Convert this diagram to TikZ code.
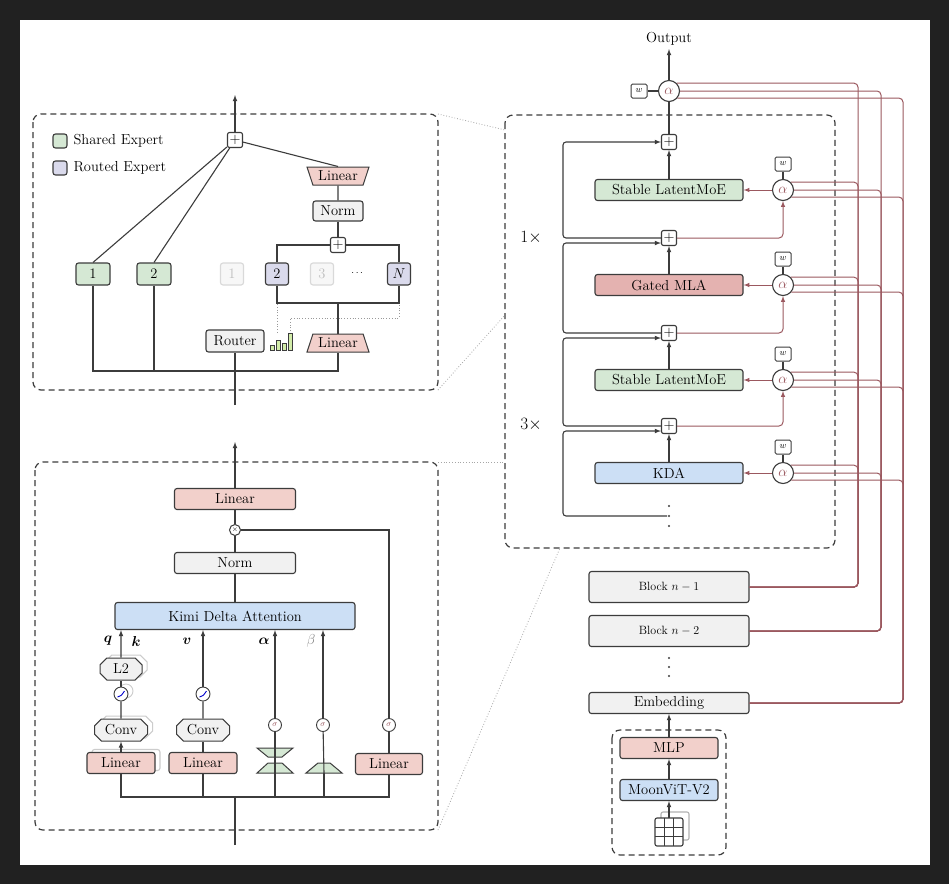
\documentclass[tikz,border=0pt]{standalone}
\usepackage{amsmath,amssymb,bm}
\usetikzlibrary{shapes.geometric,shapes.misc,shadows,calc}
\definecolor{gfill}{RGB}{213,232,212}
\definecolor{rfill}{RGB}{242,208,203}
\definecolor{rdark}{RGB}{228,178,176}
\definecolor{bfill}{RGB}{204,223,245}
\definecolor{grfill}{RGB}{241,241,241}
\definecolor{pfill}{RGB}{218,218,236}
\definecolor{resc}{RGB}{155,88,95}
\definecolor{edge}{RGB}{60,60,60}
\tikzset{
  box/.style={draw=edge, line width=1.1pt, rounded corners=2.5pt, inner sep=0pt, minimum height=21pt, font=\fontsize{14.5}{16}\selectfont},
  plusn/.style={draw=edge, line width=1.1pt, rounded corners=2pt, minimum size=15pt, inner sep=0pt, font=\fontsize{14}{14}\selectfont},
  alph/.style={circle, draw=edge, line width=1.1pt, minimum size=21pt, inner sep=0pt, text=resc, font=\fontsize{14}{14}\selectfont},
  wbox/.style={draw=edge, line width=1pt, rounded corners=1.5pt, minimum width=16pt, minimum height=14pt, inner sep=0pt, font=\small},
  sig/.style={circle, draw=edge, line width=0.9pt, minimum size=13pt, inner sep=0pt, text=resc, font=\footnotesize},
  relu/.style={circle, draw=edge, line width=0.9pt, minimum size=14pt, inner sep=0pt},
  oct/.style={chamfered rectangle, chamfered rectangle xsep=4pt, draw=edge, line width=1pt, fill=grfill, inner sep=0pt, minimum height=22pt, font=\fontsize{14.5}{16}\selectfont},
  trap/.style={trapezium, trapezium stretches=true, draw=edge, line width=1pt, fill=rfill, inner sep=0pt, minimum width=62pt, minimum height=18pt, trapezium angle=65, font=\fontsize{14.5}{16}\selectfont},
  gtrap/.style={draw=edge, line width=1pt, fill=gfill},
  shad/.style={copy shadow={shadow xshift=5pt, shadow yshift=3pt, draw=gray!40, fill=white}},
  ln/.style={line width=1.1pt, draw=edge},
  arr/.style={ln, -{latex}},
  res/.style={line width=1pt, draw=resc, rounded corners=4pt},
  rarr/.style={res, -{latex}},
  dash box/.style={draw=edge, line width=1.2pt, dash pattern=on 6pt off 4pt, rounded corners=8pt},
  zoomln/.style={draw=gray!70, line width=0.8pt, dotted},
  lbl/.style={font=\fontsize{14.5}{16}\selectfont},
  dot/.style={circle, fill=edge, inner sep=0pt, minimum size=2.2pt}
}
\begin{document}
\begin{tikzpicture}[x=1pt,y=-1pt]
\fill[black!87] (0,0) rectangle (949,884);
\fill[white] (20,20) rectangle (930,865);
\useasboundingbox (0,0) rectangle (949,884);

% ---- main stack
\draw[dash box] (505,115) rectangle (835,548);
\node[lbl] (out) at (669,39) {Output};
\node[alph] (a0) at (669,91) {$\alpha$};
\node[wbox] (w0) at (639,91) {$w$};
\draw[ln] (w0) -- (a0);
\draw[arr] (a0) -- (out);
\foreach \n/\y in {1/142,2/238,3/333,4/426}
  \node[plusn] (p\n) at (669,\y) {$+$};
\node[box, fill=gfill, minimum width=148pt] (b1) at (669,190) {Stable LatentMoE};
\node[box, fill=rdark, minimum width=148pt] (b2) at (669,285) {Gated MLA};
\node[box, fill=gfill, minimum width=148pt] (b3) at (669,380) {Stable LatentMoE};
\node[box, fill=bfill, minimum width=148pt] (b4) at (669,473) {KDA};
\foreach \y in {506,516,526} \node[dot] at (669,\y) {};
\coordinate (vd) at (667,516);
\foreach \n/\y in {1/190,2/285,3/380,4/473}{
  \node[alph] (a\n) at (783,\y) {$\alpha$};
  \node[wbox] (w\n) at (783,\y-26) {$w$};
  \draw[ln] (w\n) -- (a\n);
  \draw[rarr] (a\n) -- (b\n);
}
\draw[ln] (p1) -- (a0);
\foreach \n/\m in {1/1,2/2,3/3,4/4}
  \draw[arr] (b\n) -- (p\m);
\draw[rarr] (p2.east) -| (a1.south);
\draw[rarr] (p3.east) -| (a2.south);
\draw[rarr] (p4.east) -| (a3.south);
% residual loops
\draw[arr, rounded corners=3pt] (p2.west) -- (563,238) -- (563,142) -- (p1.west);
\draw[arr, rounded corners=3pt] (p3.west) -- (563,333) -- (563,243) -- (p2.west |- 0,243);
\draw[arr, rounded corners=3pt] (p4.west) -- (563,426) -- (563,338) -- (p3.west |- 0,338);
\draw[arr, rounded corners=3pt] (vd) -- (563,516) -- (563,431) -- (p4.west |- 0,431);
\node[font=\fontsize{19}{19}\selectfont] at (531,238) {$1\times$};
\node[font=\fontsize{19}{19}\selectfont] at (531,425) {$3\times$};

% ---- lower stack
\node[box, fill=grfill, minimum width=160pt, minimum height=31pt, font=\fontsize{12}{14}\selectfont] (bn1) at (669,587) {Block $n-1$};
\node[box, fill=grfill, minimum width=160pt, minimum height=31pt, font=\fontsize{12}{14}\selectfont] (bn2) at (669,631) {Block $n-2$};
\foreach \y in {658,667,676} \node[dot] at (669,\y) {};
\node[box, fill=grfill, minimum width=160pt] (emb) at (669,703) {Embedding};
\draw[dash box] (612,730) rectangle (726,855);
\node[box, fill=rfill, minimum width=98pt] (mlp) at (669,748) {MLP};
\node[box, fill=bfill, minimum width=98pt] (vit) at (669,790) {MoonViT-V2};
\coordinate (img) at (669,818);
\draw[ln, draw=gray!60, fill=white, rounded corners=2pt] (661,812) rectangle (689,840);
\draw[ln, fill=white, rounded corners=2pt] (655,818) rectangle (683,846);
\foreach \i in {1,2} {
  \draw[line width=0.6pt, edge] (655+\i*9.33,818) -- (655+\i*9.33,846);
  \draw[line width=0.6pt, edge] (655,818+\i*9.33) -- (683,818+\i*9.33);
}
\draw[arr] (img) -- (vit);
\draw[arr] (vit) -- (mlp);
\draw[arr] (mlp) -- (emb);

% ---- dense connections
\foreach \a in {a0,a1,a2,a3,a4}{
  \draw[res] (\a.45) -- (\a.45 -| 858,0) -- (858,587) -- (bn1.east);
  \draw[res] (\a.east) -- (\a.east -| 881,0) -- (881,631) -- (bn2.east);
  \draw[res] (\a.-40) -- (\a.-40 -| 903,0) -- (903,703) -- (emb.east);
}

% ---- MoE panel
\draw[dash box] (33,114) rectangle (438,390);
\node[box, fill=gfill, minimum width=14pt, minimum height=14pt] (lg1) at (60,141) {};
\node[lbl, anchor=west] at (70,141) {Shared Expert};
\node[box, fill=pfill, minimum width=14pt, minimum height=14pt] (lg2) at (60,168) {};
\node[lbl, anchor=west] at (70,168) {Routed Expert};
\node[plusn] (mp) at (235,140) {$+$};
\coordinate (mtop) at (235,95);
\coordinate (min) at (235,405);
\draw[arr] (mp) -- (mtop);
\node[box, fill=gfill, minimum width=34pt, minimum height=22pt] (s1) at (93,274) {1};
\node[box, fill=gfill, minimum width=34pt, minimum height=22pt] (s2) at (154,274) {2};
\node[box, draw=gray!30, fill=grfill!60, text=gray!50, minimum width=23pt, minimum height=22pt] (r1) at (232,274) {1};
\node[box, fill=pfill, minimum width=23pt, minimum height=22pt] (r2) at (277,274) {2};
\node[box, draw=gray!30, fill=grfill!60, text=gray!50, minimum width=23pt, minimum height=22pt] (r3) at (322,274) {3};
\node at (358,273) {$\cdots$};
\node[box, fill=pfill, minimum width=23pt, minimum height=22pt] (rN) at (399,274) {$N$};
\node[trap, shape border rotate=180] (lin1) at (338,176) {Linear};
\node[box, fill=grfill, minimum width=50pt, minimum height=20pt] (mnorm) at (338,211) {Norm};
\node[plusn] (rp) at (338,245) {$+$};
\node[trap] (lin2) at (338,343) {Linear};
\node[box, fill=grfill, minimum width=58pt, minimum height=22pt] (router) at (235,341) {Router};
\draw[ln] (s1.north) -- (mp);
\draw[ln] (s2.north) -- (mp);
\draw[ln] (lin1.north) -- (mp);
\draw[ln] (lin1) -- (mnorm);
\draw[ln] (mnorm) -- (rp);
\draw[ln] (r2.north) |- (rp.west);
\draw[ln] (rN.north) |- (rp.east);
\draw[ln] (r2.south) |- (338,303) -| (rN.south);
\draw[ln] (338,303) -- (lin2);
\draw[ln] (min) -- (router);
\draw[ln] (s1.south) |- (lin2.south |- 0,371) -- (lin2.south);
\draw[ln] (s2.south) -- (154,371);
% router scores
\foreach \x/\h in {270/5,276/10,282/7,288/17}
  \draw[line width=0.8pt, edge, fill=yellow!50!green!35] (\x,350) rectangle (\x+4.5,350-\h);
\draw[zoomln, draw=gray!80, line width=1pt] (277,304) -- (277,333);
\draw[zoomln, draw=gray!80, line width=1pt] (290,331) -- (290,318) -- (399,318) -- (399,304);

% ---- KDA panel
\draw[dash box] (35,462) rectangle (438,830);
\node[box, fill=rfill, minimum width=121pt] (klin) at (235,499) {Linear};
\node[circle, draw=edge, line width=1pt, inner sep=0pt, minimum size=11pt, font=\scriptsize] (kmul) at (235,530) {$\times$};
\node[box, fill=grfill, minimum width=121pt] (knorm) at (235,563) {Norm};
\node[box, fill=bfill, minimum width=240pt, minimum height=27pt] (kda) at (235,616) {Kimi Delta Attention};
\coordinate (ktop) at (235,442);
\coordinate (kin) at (235,845);
\draw[arr] (klin) -- (ktop);
\draw[ln] (kmul) -- (klin);
\draw[ln] (knorm) -- (kmul);
\draw[ln] (kda) -- (knorm);
% q,k branch
\node[oct, shad, minimum width=42pt] (l2) at (121,669) {L2};
\node[relu, shad, fill=white] (rq) at (121,694) {};
\node[oct, shad, minimum width=53pt] (cq) at (121,730) {Conv};
\node[box, shad, fill=rfill, minimum width=68pt] (lq) at (121,763) {Linear};
% v branch
\node[relu] (rv) at (203,694) {};
\node[oct, minimum width=53pt] (cv) at (203,730) {Conv};
\node[box, fill=rfill, minimum width=68pt] (lv) at (203,763) {Linear};
\foreach \r in {rq,rv}
  \draw[blue!80!black, line width=0.9pt] ($(\r)+(-3.5,3)$) .. controls ($(\r)+(0,2)$) .. ($(\r)+(3.5,-3)$);
% alpha, beta branches
\node[sig] (sa) at (275,725) {$\sigma$};
\coordinate (ga) at (275,773);
\coordinate (gb) at (324,773);
\draw[gtrap] (257,748) -- (293,748) -- (282,757) -- (268,757) -- cycle;
\draw[gtrap] (268,763) -- (282,763) -- (293,773) -- (257,773) -- cycle;
\node[sig] (sb) at (323,725) {$\sigma$};
\draw[gtrap] (318,763) -- (330,763) -- (342,773) -- (306,773) -- cycle;
\node[sig] (sg) at (389,725) {$\sigma$};
\node[box, fill=rfill, minimum width=67pt] (lg) at (389,764) {Linear};
\draw[arr] (lq) -- (cq); \draw[ln] (cq) -- (rq); \draw[ln] (rq) -- (l2);
\draw[arr] (l2) -- (kda.south -| l2);
\draw[ln] (lv) -- (cv); \draw[ln] (cv) -- (rv);
\draw[arr] (rv) -- (kda.south -| rv);
\draw[ln] (ga) -- (sa); \draw[arr] (sa) -- (kda.south -| sa);
\draw[ln] (gb) -- (sb); \draw[arr] (sb) -- (kda.south -| sb);
\draw[ln] (lg) -- (sg);
\draw[ln] (sg) |- (kmul);
\draw[ln] (lq.south) |- (lg.south |- 0,797) -- (lg.south);
\draw[ln] (lv.south) -- (203,797);
\draw[ln] (ga) -- (275,797);
\draw[ln] (gb) -- (324,797);
\draw[ln] (kin) -- (235,797);
\node[lbl] at (108,641) {$\bm{q}$};
\node[lbl] at (136,641) {$\bm{k}$};
\node[lbl] at (187,641) {$\bm{v}$};
\node[lbl] at (264,641) {$\bm{\alpha}$};
\node[lbl, text=gray] at (311,641) {$\beta$};

% ---- zoom guides
\draw[zoomln] (438,114) -- (505,130);
\draw[zoomln] (438,390) -- (505,315);
\draw[zoomln] (438,462) -- (505,462);
\draw[zoomln] (438,830) -- (560,548);
\end{tikzpicture}
\end{document}
